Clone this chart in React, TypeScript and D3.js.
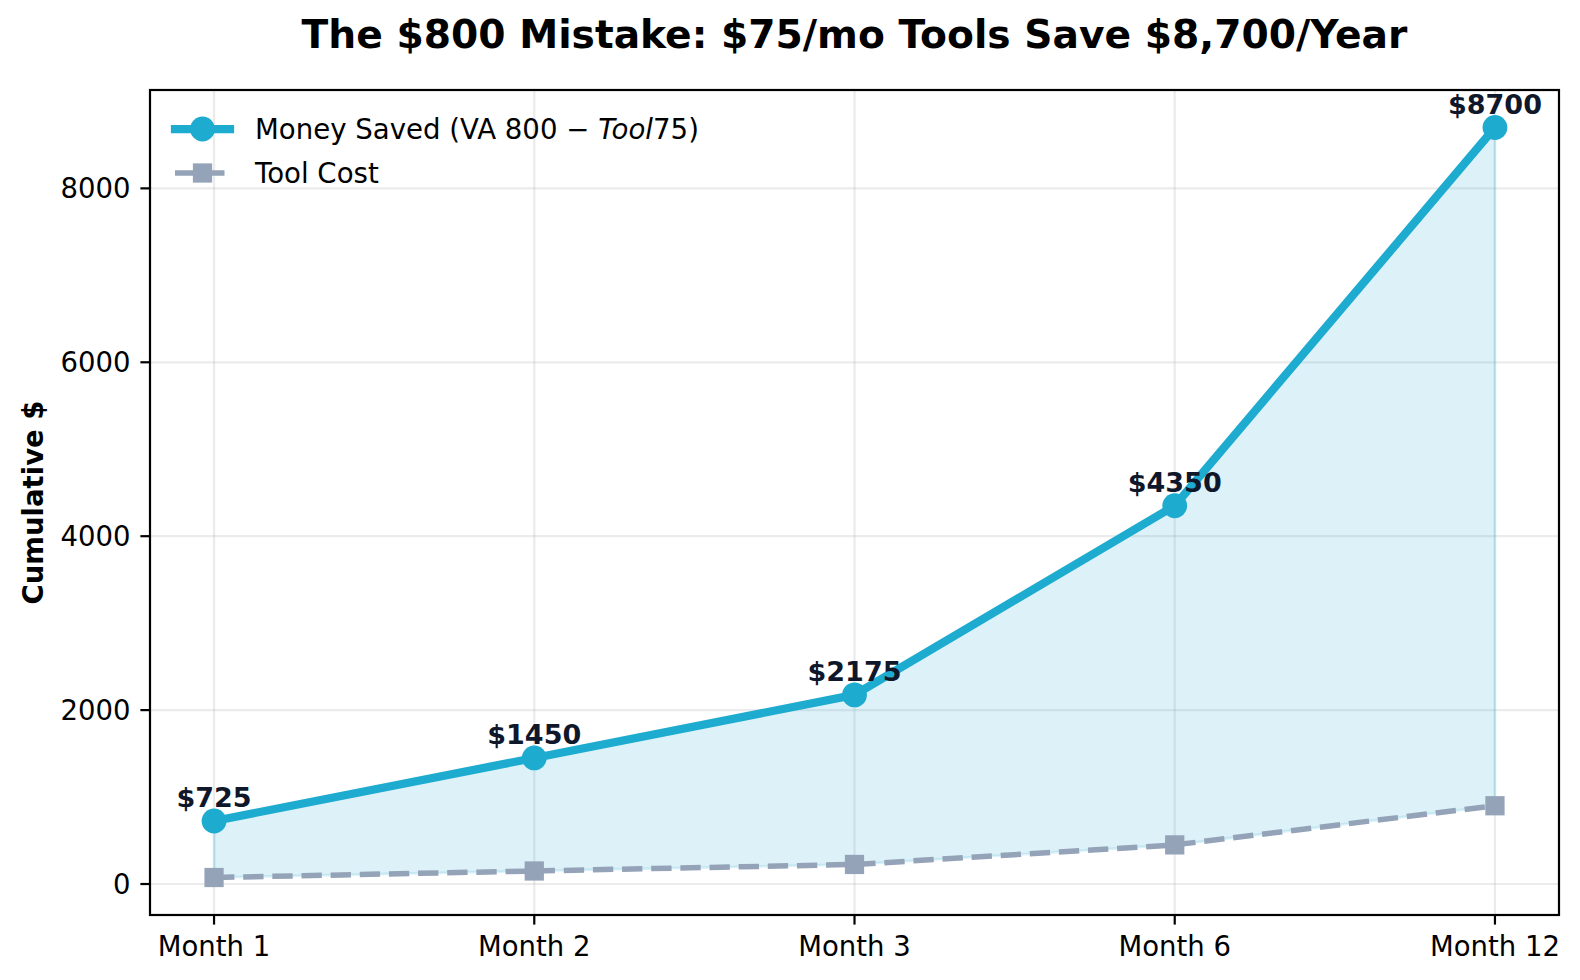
import React from "react";
import * as d3 from "d3";

const categories = ["Month 1", "Month 2", "Month 3", "Month 6", "Month 12"];
const moneySaved = [725, 1450, 2175, 4350, 8700];
const toolCost = [75, 150, 225, 450, 900];
const yTicks = [0, 2000, 4000, 6000, 8000];
const pointLabels = ["$725", "$1450", "$2175", "$4350", "$8700"];

const W = 1580;
const H = 980;
const M = { left: 150, right: 1559, top: 90, bottom: 915 };
const FONT = "DejaVu Sans, Verdana, sans-serif";
const BLUE = "#1eabd0";
const GREY = "#94a3b8";
const NAVY = "#0f172a";

export default function App() {
  const lo = Math.min(...toolCost);
  const hi = Math.max(...moneySaved);
  const pad = (hi - lo) * 0.05;
  const x = d3.scaleLinear().domain([-0.2, categories.length - 1 + 0.2]).range([M.left, M.right]);
  const y = d3.scaleLinear().domain([lo - pad, hi + pad]).range([M.bottom, M.top]);

  const idx = categories.map((_, i) => i);
  const area = d3
    .area<number>()
    .x((i) => x(i))
    .y0((i) => y(toolCost[i]))
    .y1((i) => y(moneySaved[i]));
  const lineMoney = d3.line<number>().x((i) => x(i)).y((i) => y(moneySaved[i]));
  const lineTool = d3.line<number>().x((i) => x(i)).y((i) => y(toolCost[i]));

  const tickFs = 27.5;
  const sq = 19.25;

  return (
    <svg
      width={W}
      height={H}
      style={{ position: "absolute", left: 0, top: 0, background: "#fff" }}
      fontFamily={FONT}
    >
      <rect x={0} y={0} width={W} height={H} fill="#fff" />
      {/* grid */}
      <g stroke="#b0b0b0" strokeOpacity={0.25} strokeWidth={2.2}>
        {yTicks.map((t) => (
          <line key={"gy" + t} x1={M.left} x2={M.right} y1={y(t)} y2={y(t)} />
        ))}
        {idx.map((i) => (
          <line key={"gx" + i} x1={x(i)} x2={x(i)} y1={M.top} y2={M.bottom} />
        ))}
      </g>
      {/* fill between */}
      <path
        d={area(idx) || ""}
        fill={BLUE}
        fillOpacity={0.15}
        stroke={BLUE}
        strokeOpacity={0.15}
        strokeWidth={2.75}
      />
      {/* tool cost line */}
      <path
        d={lineTool(idx) || ""}
        fill="none"
        stroke={GREY}
        strokeWidth={5.5}
        strokeDasharray="20.35 8.8"
      />
      {idx.map((i) => (
        <rect
          key={"sq" + i}
          x={x(i) - sq / 2}
          y={y(toolCost[i]) - sq / 2}
          width={sq}
          height={sq}
          fill={GREY}
        />
      ))}
      {/* money line */}
      <path
        d={lineMoney(idx) || ""}
        fill="none"
        stroke={BLUE}
        strokeWidth={8.25}
        strokeLinejoin="round"
      />
      {idx.map((i) => (
        <circle key={"c" + i} cx={x(i)} cy={y(moneySaved[i])} r={12.4} fill={BLUE} />
      ))}
      {/* point labels */}
      {idx.map((i) => (
        <text
          key={"l" + i}
          x={x(i)}
          y={y(moneySaved[i]) - 14}
          textAnchor="middle"
          fontSize={27}
          fontWeight="bold"
          fill={NAVY}
        >
          {pointLabels[i]}
        </text>
      ))}
      {/* spines */}
      <rect
        x={M.left}
        y={M.top}
        width={M.right - M.left}
        height={M.bottom - M.top}
        fill="none"
        stroke="#000"
        strokeWidth={2.2}
      />
      {/* y ticks */}
      {yTicks.map((t) => (
        <g key={"yt" + t}>
          <line x1={M.left - 9.6} x2={M.left} y1={y(t)} y2={y(t)} stroke="#000" strokeWidth={2.2} />
          <text
            x={M.left - 19.5}
            y={y(t)}
            textAnchor="end"
            dominantBaseline="central"
            fontSize={tickFs}
            fill="#000"
          >
            {t}
          </text>
        </g>
      ))}
      {/* x ticks */}
      {idx.map((i) => (
        <g key={"xt" + i}>
          <line x1={x(i)} x2={x(i)} y1={M.bottom} y2={M.bottom + 9.6} stroke="#000" strokeWidth={2.2} />
          <text x={x(i)} y={956} textAnchor="middle" fontSize={tickFs} fill="#000">
            {categories[i]}
          </text>
        </g>
      ))}
      {/* y label */}
      <text
        transform={`translate(42.5, ${(M.top + M.bottom) / 2}) rotate(-90)`}
        textAnchor="middle"
        fontSize={27.5}
        fontWeight="bold"
        fill="#000"
      >
        Cumulative $
      </text>
      {/* title */}
      <text
        x={(M.left + M.right) / 2}
        y={48}
        textAnchor="middle"
        fontSize={39.2}
        fontWeight="bold"
        fill="#000"
      >
        The $800 Mistake: $75/mo Tools Save $8,700/Year
      </text>
      {/* legend */}
      <g>
        <line x1={175} x2={230} y1={129} y2={129} stroke={BLUE} strokeWidth={8.25} strokeLinecap="square" />
        <circle cx={202.5} cy={129} r={12.4} fill={BLUE} />
        <text x={255} y={129} dominantBaseline="central" fontSize={27.6} fill="#000">
          Money Saved (VA 800 − <tspan fontStyle="italic">Tool</tspan>75)
        </text>
        <line
          x1={175}
          x2={230}
          y1={173}
          y2={173}
          stroke={GREY}
          strokeWidth={5.5}
          strokeDasharray="20.35 8.8"
        />
        <rect x={202.5 - sq / 2} y={173 - sq / 2} width={sq} height={sq} fill={GREY} />
        <text x={255} y={173} dominantBaseline="central" fontSize={27.6} fill="#000">
          Tool Cost
        </text>
      </g>
    </svg>
  );
}
